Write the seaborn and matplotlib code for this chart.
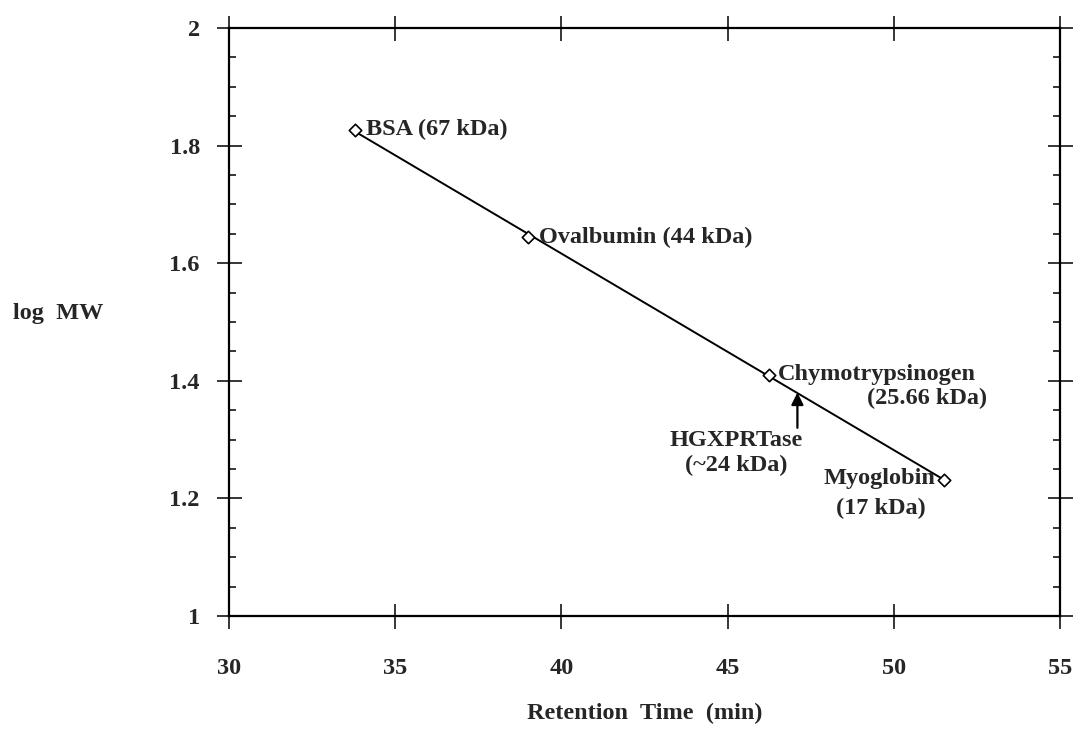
import numpy as np
import matplotlib
matplotlib.use('Agg')
import matplotlib.pyplot as plt
import seaborn as sns
from matplotlib.ticker import MultipleLocator

# Calibration standards (retention time in min, log MW)
proteins = ['BSA (67 kDa)', 'Ovalbumin (44 kDa)', 'Chymotrypsinogen', 'Myoglobin']
sizes = ['', '', '(25.66 kDa)', '(17 kDa)']
retention = [33.8, 39.0, 46.25, 51.5]
log_mw = [1.827, 1.644, 1.410, 1.232]

# Sample
sample_name = 'HGXPRTase\n(~24 kDa)'
sample_rt = 47.1
sample_logmw = 1.38

sns.set_style('ticks')
plt.rcParams['font.family'] = ['Liberation Serif', 'DejaVu Serif']
plt.rcParams['font.size'] = 17.5
plt.rcParams['font.weight'] = 'bold'
plt.rcParams['axes.labelweight'] = 'bold'

fig, ax = plt.subplots(figsize=(10.75, 7.29), dpi=100)
fig.subplots_adjust(left=229/1075, right=1060/1075, top=1-28/729, bottom=1-616/729)

# fitted calibration line
slope, icept = np.polyfit(retention, log_mw, 1)
xfit = np.array([min(retention), max(retention)])
sns.lineplot(x=xfit, y=slope * xfit + icept, color='black', linewidth=1.4, ax=ax)

sns.scatterplot(x=retention, y=log_mw, marker='D', s=40, facecolor='white',
                edgecolor='black', linewidth=1.2, zorder=3, ax=ax)

# point labels
ax.annotate(proteins[0], (retention[0], log_mw[0]), xytext=(8, 0),
            textcoords='offset points', va='center', ha='left')
ax.annotate(proteins[1], (retention[1], log_mw[1]), xytext=(8, 0),
            textcoords='offset points', va='center', ha='left')
ax.annotate(proteins[2], (retention[2], log_mw[2]), xytext=(6, 0),
            textcoords='offset points', va='center', ha='left')
ax.annotate(sizes[2], (retention[2], log_mw[2]), xytext=(157, -17),
            textcoords='offset points', va='center', ha='right')
ax.annotate(proteins[3], (retention[3], log_mw[3]), xytext=(-6, 1),
            textcoords='offset points', va='center', ha='right')
ax.annotate(sizes[3], (retention[3], log_mw[3]), xytext=(-45, -21),
            textcoords='offset points', va='center', ha='center')

# arrow pointing at the sample on the line, label below-left
ax.annotate('', xy=(sample_rt, sample_logmw), xytext=(sample_rt, sample_logmw - 0.06),
            arrowprops=dict(arrowstyle='-|>', color='black', lw=1.6, mutation_scale=18,
                            shrinkA=0, shrinkB=0))
ax.annotate(sample_name, (sample_rt, sample_logmw), xytext=(-44, -27),
            textcoords='offset points', ha='center', va='top', linespacing=1.25)

ax.set_xlim(30, 55)
ax.set_ylim(1, 2)
ax.xaxis.set_major_locator(MultipleLocator(5))
ax.yaxis.set_minor_locator(MultipleLocator(0.05))
ax.set_yticks([1, 1.2, 1.4, 1.6, 1.8, 2])
ax.set_yticklabels(['1', '1.2', '1.4', '1.6', '1.8', '2'])

ax.tick_params(which='major', direction='inout', length=18, width=1.3,
               top=True, right=True, labelsize=17.5)
ax.tick_params(axis='x', which='major', pad=21)
ax.tick_params(axis='y', which='major', pad=12)
ax.tick_params(which='minor', direction='in', length=5, width=1.3,
               left=True, right=True, top=False, bottom=False)
for sp in ax.spines.values():
    sp.set_linewidth(1.6)
    sp.set_color('black')

ax.set_xlabel('Retention  Time  (min)', fontsize=17.5)
ax.xaxis.set_label_coords(0.5, -0.147)
ax.set_ylabel('log  MW', fontsize=17.5, rotation=0, va='center')
ax.yaxis.set_label_coords(-0.205, 0.515)

plt.savefig('out.png', dpi=100)
